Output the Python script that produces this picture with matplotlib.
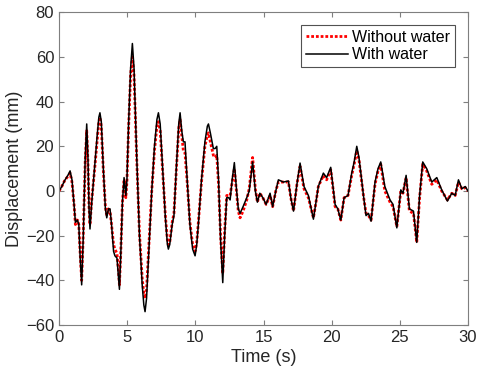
"""
Displacement time history, with and without water.
"""

import numpy as np
import matplotlib
matplotlib.use('Agg')
import matplotlib.pyplot as plt

# time (s) at peaks/troughs and a few points in between
time_s = [0, 0.2, 0.44, 0.65, 0.81, 0.95, 1.1, 1.2, 1.35, 1.45, 1.55, 1.66, 1.78, 1.92,
          2.03, 2.12, 2.2, 2.27, 2.4, 2.6, 2.8, 2.92, 3.0, 3.1, 3.25, 3.4, 3.5, 3.62,
          3.74, 3.85, 4.0, 4.1, 4.25, 4.35, 4.43, 4.52, 4.65, 4.77, 4.9, 4.98, 5.1,
          5.25, 5.38, 5.5, 5.7, 5.9, 6.1, 6.22, 6.31, 6.42, 6.6, 6.8, 7.0, 7.18, 7.29,
          7.42, 7.6, 7.8, 7.95, 8.02, 8.12, 8.3, 8.43, 8.6, 8.78, 8.88, 9.0, 9.12, 9.24,
          9.4, 9.6, 9.8, 9.98, 10.1, 10.22, 10.45, 10.7, 10.88, 10.96, 11.1, 11.32,
          11.45, 11.57, 11.7, 11.85, 12.01, 12.15, 12.3, 12.45, 12.55, 12.7, 12.86,
          13.0, 13.15, 13.28, 13.5, 13.77, 13.95, 14.2, 14.4, 14.55, 14.73, 14.95,
          15.19, 15.48, 15.67, 15.9, 16.09, 16.46, 16.83, 17.0, 17.2, 17.45, 17.68,
          17.97, 18.29, 18.66, 18.85, 19.02, 19.39, 19.63, 19.93, 20.1, 20.25, 20.45,
          20.67, 20.91, 21.2, 21.47, 21.65, 21.84, 22.0, 22.14, 22.35, 22.52, 22.7,
          22.89, 23.18, 23.4, 23.6, 23.9, 24.28, 24.5, 24.78, 25.07, 25.23, 25.46,
          25.7, 26.0, 26.24, 26.45, 26.68, 26.97, 27.34, 27.71, 28.07, 28.49, 28.81,
          29.06, 29.3, 29.55, 29.8, 30.0]

# displacement (mm) with water
with_water = [0, 2, 5, 7, 9, 5, -6, -14, -13, -15, -30, -42, -20, 15,
              30, 15, -8, -17, -5, 10, 25, 33, 35, 31, 10, -8, -12, -8,
              -8, -15, -27, -29, -30, -38, -44, -30, -5, 6, -2, 5, 30,
              55, 66, 55, 15, -20, -42, -51, -54, -48, -25, 0, 20, 32, 35,
              30, 10, -12, -24, -26, -24, -15, -11, 10, 30, 35, 27, 22, 22,
              5, -15, -26, -29, -24, -15, 5, 22, 29, 30, 26, 19,
              19, 20, 5, -22, -41, -20, -3, -3, -4, 5, 12.7,
              2, -8, -10, -7, -3, 0, 13, 0, -5, -1, -3,
              -6, -1, -7, 0, 5, 4, 4.5, -3, -9, 3, 12.5,
              2, -2, -12.6, -5, 2, 8, 6, 10.6, 2, -6, -8,
              -13, -3, -2, 8, 13, 20, 15, 8, -3, -11, -10,
              -13.5, 4, 10, 13, 2, -4, -6, -16.5, 0.5, -1, 7,
              -8, -9, -23, -2, 13, 10, 4, 6, 0.5, -4.5, -1,
              -2, 5, 1, 2, 0]

# displacement (mm) without water
without_water = [0, 2, 5, 6.5, 8, 4, -6, -15, -13, -15, -28, -40, -19, 13,
                 27, 13, -7, -15, -4, 9, 23, 31, 33, 29, 9, -7, -11, -8,
                 -9, -15, -24, -26, -28, -35, -42, -29, -5, 5, -3, 4, 28,
                 52, 60, 52, 14, -19, -39, -46, -48, -44, -23, 0, 18, 29, 31,
                 27, 9, -11, -22, -24, -23, -14, -10, 9, 28, 32, 25, 18, 17,
                 4, -14, -24, -27, -23, -14, 4, 20, 25, 26, 22, 16,
                 15, 16, 3, -20, -37, -18, -2, -2, -2, 4, 10,
                 1, -9, -12, -9, -4, 1, 15, 1, -5, -1, -3,
                 -6, -2, -7, 0, 4, 4, 4, -3, -9, 3, 11,
                 1, -3, -12, -5, 2, 7, 5, 9.5, 1, -7, -8,
                 -13, -3, -2, 7, 12, 18, 14, 7, -3, -10, -11,
                 -13, 3, 9, 12, 0, -5, -7, -16, 0, -1, 6,
                 -9, -10, -23, -3, 12, 9, 3, 5, 0, -4, -1,
                 -2, 4, 1, 1.5, 0]

xticks = np.arange(0, 31, 5)
yticks = np.arange(-60, 81, 20)


def main():
    plt.rcParams['font.family'] = ['Liberation Sans', 'DejaVu Sans']

    fig = plt.figure(figsize=(4.8, 3.82), dpi=100)
    ax = fig.add_axes([0.123, 0.149, 0.852, 0.819])

    ax.plot(time_s, without_water, color='#ff0000', linestyle=(0, (1, 0.7)),
            linewidth=2.0, label='Without water')
    ax.plot(time_s, with_water, color='black', linewidth=1.1, label='With water')

    ax.set_xlim(0, 30)
    ax.set_ylim(-60, 80)
    ax.set_xticks(xticks)
    ax.set_yticks(yticks)
    ax.tick_params(direction='in', top=True, right=True, length=3.5, width=0.8,
                   colors='#7f7f7f', labelcolor='#262626', labelsize=12)
    for s in ax.spines.values():
        s.set_color('#7f7f7f')
        s.set_linewidth(0.8)

    ax.set_xlabel('Time (s)', fontsize=13, color='#262626', labelpad=3)
    ax.set_ylabel('Displacement (mm)', fontsize=13, color='#262626', labelpad=2)

    leg = ax.legend(loc='upper right', fontsize=11.5, frameon=True, fancybox=False,
                    borderaxespad=0.8, handlelength=2.6, handletextpad=0.3,
                    borderpad=0.3, labelspacing=0.15)
    leg.get_frame().set_edgecolor('#262626')
    leg.get_frame().set_linewidth(0.8)

    fig.savefig('out.png', dpi=100)


if __name__ == "__main__":
    main()
